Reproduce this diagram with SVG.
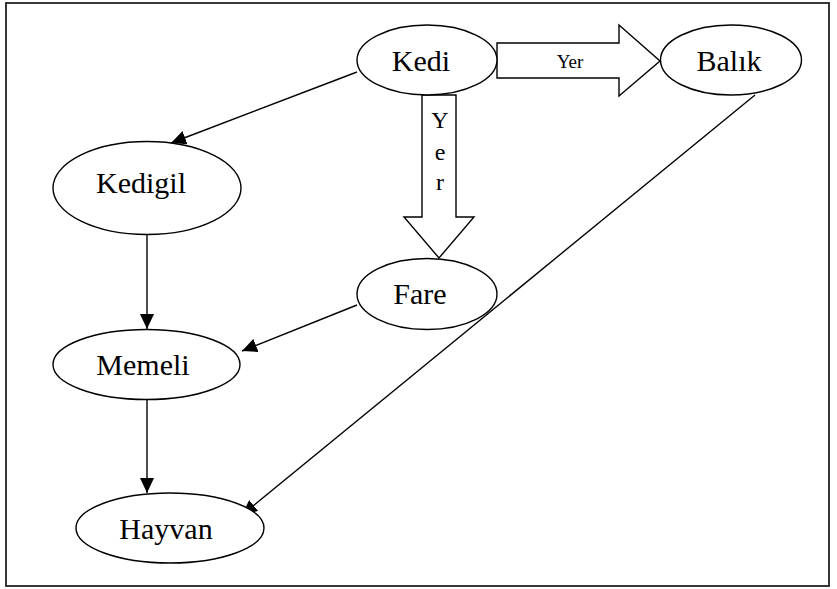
<svg xmlns="http://www.w3.org/2000/svg" width="837" height="589" viewBox="0 0 837 589">
<style>
.n{fill:#fff;stroke:#000;stroke-width:1.4}
.t{font-family:"Liberation Serif","Times New Roman",serif;font-size:30px;fill:#000;text-anchor:middle}
.c{fill:none;stroke:#000;stroke-width:1.4;marker-end:url(#ah)}
.b{fill:#fff;stroke:#000;stroke-width:1.4;stroke-linejoin:miter}
.s{font-family:"Liberation Serif","Times New Roman",serif;fill:#000;text-anchor:middle}
</style>
<defs>
<marker id="ah" markerUnits="userSpaceOnUse" markerWidth="16" markerHeight="14" refX="15" refY="7" orient="auto">
<path d="M0,0 L15,7 L0,14 z" fill="#000"/>
</marker>
</defs>
<rect x="6" y="3" width="823" height="583" fill="#fff" stroke="#222" stroke-width="1.8"/>
<g id="connectors">
<line class="c" x1="357" y1="72" x2="171" y2="143"/>
<line class="c" x1="147" y1="235" x2="147" y2="329"/>
<line class="c" x1="147" y1="399" x2="147" y2="493"/>
<line class="c" x1="357" y1="305" x2="242" y2="351"/>
<line class="c" x1="755" y1="95" x2="242" y2="515"/>
<g id="arrow-kedi-balik">
<path class="b" d="M497,43 L619,43 L619,25 L660,61 L619,96 L619,78 L497,78 z"/>
<text class="s" x="570" y="68" font-size="19">Yer</text>
</g>
<g id="arrow-kedi-fare">
<path class="b" d="M422,95 L456,95 L456,217 L474,217 L439,258 L404,217 L422,217 z"/>
<text class="s" x="440" y="128" font-size="24">Y</text>
<text class="s" x="440" y="160" font-size="24">e</text>
<text class="s" x="440" y="190" font-size="24">r</text>
</g>
</g>
<g id="kedi"><ellipse class="n" cx="427" cy="60" rx="70" ry="35"/><text class="t" x="421" y="71">Kedi</text></g>
<g id="balik"><ellipse class="n" cx="731" cy="60" rx="70.5" ry="35"/><text class="t" x="729" y="71">Balık</text></g>
<g id="kedigil"><ellipse class="n" cx="147" cy="188" rx="94" ry="46.5"/><text class="t" x="141" y="193">Kedigil</text></g>
<g id="fare"><ellipse class="n" cx="427" cy="294" rx="70" ry="35.5"/><text class="t" x="420" y="304">Fare</text></g>
<g id="memeli"><ellipse class="n" cx="146.5" cy="364.5" rx="93.5" ry="35"/><text class="t" x="143" y="375">Memeli</text></g>
<g id="hayvan"><ellipse class="n" cx="170" cy="528" rx="94" ry="35"/><text class="t" x="166" y="539">Hayvan</text></g>
</svg>
